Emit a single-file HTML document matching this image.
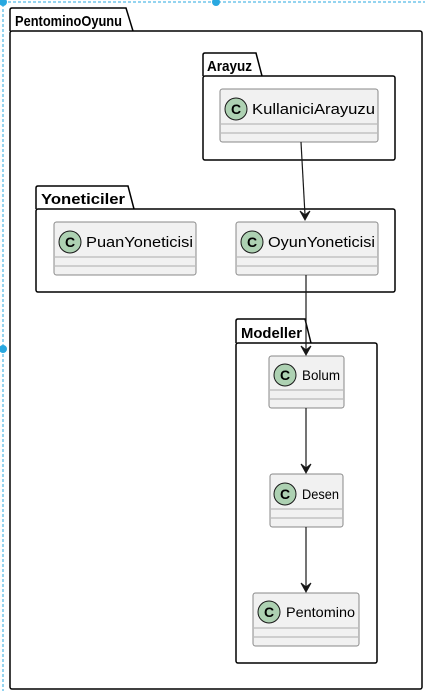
<!DOCTYPE html>
<html><head><meta charset="utf-8"><style>html,body{margin:0;padding:0;background:#fff;}svg{display:block}</style></head>
<body>
<svg width="425" height="691" xmlns="http://www.w3.org/2000/svg" font-family="Liberation Sans, sans-serif">
<defs>
<g id="cc"><circle r="11" fill="#ADD1B2" stroke="#181818" stroke-width="1"/><text y="5" text-anchor="middle" font-size="14" font-weight="bold" fill="#000">C</text></g>
</defs>
<rect x="3" y="2" width="430" height="700" fill="none" stroke="#29a8e0" stroke-dasharray="3,2" stroke-width="1"/>
<circle cx="3" cy="2" r="4" fill="#29a8e0"/><circle cx="216" cy="2" r="4" fill="#29a8e0"/><circle cx="3" cy="349" r="4" fill="#29a8e0"/>

<path d="M10,31 V10 Q10,8 12,8 H126 L133,31" fill="#fff" stroke="#000" stroke-width="1.5"/>
<rect x="10" y="31" width="412" height="658" rx="2" fill="none" stroke="#000" stroke-width="1.5"/>
<text x="15" y="26" font-size="15" font-weight="bold" textLength="107" lengthAdjust="spacingAndGlyphs">PentominoOyunu</text>

<path d="M203,76 V55 Q203,53 205,53 H256 L262,76" fill="#fff" stroke="#000" stroke-width="1.5"/>
<rect x="203" y="76" width="192" height="84" rx="2" fill="none" stroke="#000" stroke-width="1.5"/>
<text x="207" y="71" font-size="15" font-weight="bold" textLength="45" lengthAdjust="spacingAndGlyphs">Arayuz</text>

<path d="M36,209 V188 Q36,186 38,186 H128 L134,209" fill="#fff" stroke="#000" stroke-width="1.5"/>
<rect x="36" y="209" width="359" height="83" rx="2" fill="none" stroke="#000" stroke-width="1.5"/>
<text x="41" y="204" font-size="15" font-weight="bold" textLength="84" lengthAdjust="spacingAndGlyphs">Yoneticiler</text>

<path d="M236,343 V321 Q236,319 238,319 H305 L311,343" fill="#fff" stroke="#000" stroke-width="1.5"/>
<rect x="236" y="343" width="141" height="320" rx="2" fill="none" stroke="#000" stroke-width="1.5"/>
<text x="241" y="338" font-size="15" font-weight="bold" textLength="61" lengthAdjust="spacingAndGlyphs">Modeller</text>

<g stroke="#888" fill="#F1F1F1" stroke-width="1">
<rect x="220" y="89" width="158" height="53" rx="2.5"/>
<rect x="54" y="222" width="142" height="53" rx="2.5"/>
<rect x="236" y="222" width="142" height="53" rx="2.5"/>
<rect x="269" y="356" width="75" height="52" rx="2.5"/>
<rect x="270" y="474" width="73" height="53" rx="2.5"/>
<rect x="253" y="593" width="106" height="53" rx="2.5"/>
</g>
<g stroke="#aaa" stroke-width="1">
<line x1="221" y1="124" x2="377" y2="124"/><line x1="221" y1="133" x2="377" y2="133"/>
<line x1="55" y1="257" x2="195" y2="257"/><line x1="55" y1="266" x2="195" y2="266"/>
<line x1="237" y1="257" x2="377" y2="257"/><line x1="237" y1="266" x2="377" y2="266"/>
<line x1="270" y1="390" x2="343" y2="390"/><line x1="270" y1="399" x2="343" y2="399"/>
<line x1="271" y1="509" x2="342" y2="509"/><line x1="271" y1="518" x2="342" y2="518"/>
<line x1="254" y1="628" x2="358" y2="628"/><line x1="254" y1="637" x2="358" y2="637"/>
</g>
<use href="#cc" x="236" y="109"/><text x="252" y="114" font-size="15" textLength="123" lengthAdjust="spacingAndGlyphs">KullaniciArayuzu</text>
<use href="#cc" x="70" y="242"/><text x="86" y="247" font-size="15" textLength="107" lengthAdjust="spacingAndGlyphs">PuanYoneticisi</text>
<use href="#cc" x="252" y="242"/><text x="268" y="247" font-size="15" textLength="107" lengthAdjust="spacingAndGlyphs">OyunYoneticisi</text>
<use href="#cc" x="285" y="375"/><text x="302" y="380" font-size="14" textLength="38" lengthAdjust="spacingAndGlyphs">Bolum</text>
<use href="#cc" x="285" y="494"/><text x="302" y="499" font-size="14" textLength="37" lengthAdjust="spacingAndGlyphs">Desen</text>
<use href="#cc" x="269" y="612"/><text x="286" y="617" font-size="14" textLength="69" lengthAdjust="spacingAndGlyphs">Pentomino</text>

<g stroke="#181818" stroke-width="1.2" fill="none">
<line x1="301" y1="142" x2="305" y2="215"/>
<line x1="306" y1="275" x2="306" y2="350"/>
<line x1="306" y1="408" x2="306" y2="468"/>
<line x1="306" y1="527" x2="306" y2="587"/>
</g>
<g fill="#181818" stroke="#181818" stroke-width="1">
<path d="M300,211 L305,220 L310,211 L305,215 Z"/>
<path d="M301,346 L306,355 L311,346 L306,350 Z"/>
<path d="M301,464 L306,473 L311,464 L306,468 Z"/>
<path d="M301,583 L306,592 L311,583 L306,587 Z"/>
</g>
</svg>
</body></html>
